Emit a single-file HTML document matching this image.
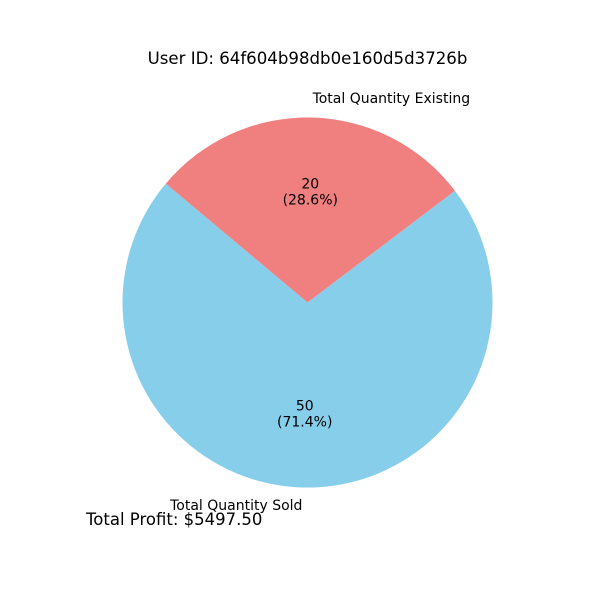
<!DOCTYPE html>
<html><head><meta charset="utf-8"><style>
body{margin:0;background:#fff}
svg text{font-family:"DejaVu Sans","Liberation Sans",sans-serif}
</style></head><body>
<svg id="c" width="600" height="600">
<text x="307.5" y="64" text-anchor="middle" font-size="16.6">User ID: 64f604b98db0e160d5d3726b</text>
<g id="slices"></g>
<text x="86" y="525" font-size="16.5">Total Profit: $5497.50</text>
</svg>
<script>
const labels=["Total Quantity Sold","Total Quantity Existing"];
const values=[50,20];
const colors=["#87ceeb","#f08080"];
const cx=307.5,cy=302.5,r=185,start=140;
const g=document.getElementById('slices');
const ns="http://www.w3.org/2000/svg";
const total=values.reduce((a,b)=>a+b,0);
let a0=start;
function pt(a,rr){const t=a*Math.PI/180;return[cx+rr*Math.cos(t),cy-rr*Math.sin(t)];}
values.forEach((v,i)=>{
  const sweep=v/total*360,a1=a0+sweep;
  const p0=pt(a0,r),p1=pt(a1,r);
  const path=document.createElementNS(ns,'path');
  path.setAttribute('d',`M${cx},${cy}L${p0[0]},${p0[1]}A${r},${r} 0 ${sweep>180?1:0} 0 ${p1[0]},${p1[1]}Z`);
  path.setAttribute('fill',colors[i]);
  
  
  g.appendChild(path);
  const mid=a0+sweep/2;
  const lp=pt(mid,r*1.1);
  const t=document.createElementNS(ns,'text');
  t.setAttribute('x',lp[0]);t.setAttribute('y',lp[1]+4);t.setAttribute('font-size','14');
  t.setAttribute('text-anchor',Math.cos(mid*Math.PI/180)<0?'end':'start');
  t.textContent=labels[i];
  
  
  g.appendChild(t);
  const pp=pt(mid,r*0.6);
  const t2=document.createElementNS(ns,'text');
  t2.setAttribute('x',pp[0]);t2.setAttribute('y',pp[1]-3);t2.setAttribute('font-size','14');t2.setAttribute('text-anchor','middle');
  t2.innerHTML=`<tspan x="${pp[0]}">${v}</tspan><tspan x="${pp[0]}" dy="16">(${(v/total*100).toFixed(1)}%)</tspan>`;
  
  
  g.appendChild(t2);
  a0=a1;
});
</script>
</body></html>
